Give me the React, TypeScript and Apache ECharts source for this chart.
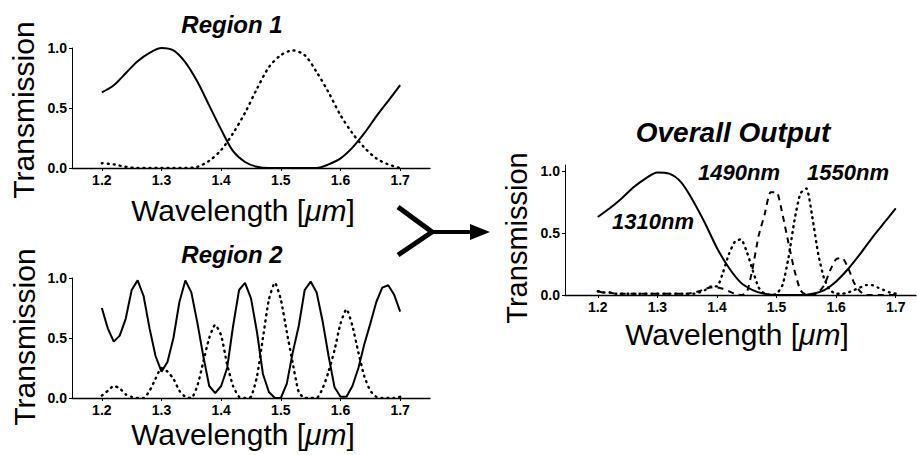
import React, { useEffect, useRef } from "react";
import * as echarts from "echarts";

const FONT = "'Liberation Sans', Arial, Helvetica, sans-serif";

// Wavelength samples (µm)
const WL_COARSE = [1.2, 1.22, 1.24, 1.26, 1.28, 1.3, 1.32, 1.34, 1.36, 1.38, 1.4, 1.42, 1.44, 1.46, 1.48, 1.5, 1.52, 1.54, 1.56, 1.58, 1.6, 1.62, 1.64, 1.66, 1.68, 1.7];
const WL_FINE = [
  1.2, 1.21, 1.22, 1.23, 1.24, 1.25, 1.26, 1.27, 1.28, 1.29,
  1.3, 1.31, 1.32, 1.33, 1.34, 1.35, 1.36, 1.37, 1.38, 1.39,
  1.4, 1.41, 1.42, 1.43, 1.44, 1.45, 1.46, 1.47, 1.48, 1.49,
  1.5, 1.51, 1.52, 1.53, 1.54, 1.55, 1.56, 1.57, 1.58, 1.59,
  1.6, 1.61, 1.62, 1.63, 1.64, 1.65, 1.66, 1.67, 1.68, 1.69, 1.7,
];

// Tick labels
const X_TICKS = [1.2, 1.3, 1.4, 1.5, 1.6, 1.7];
const Y_TICKS = [0, 0.5, 1.0];

// Region 1 (on WL_COARSE)
const R1_SOLID = [0.63, 0.69, 0.79, 0.89, 0.96, 1.0, 0.98, 0.88, 0.72, 0.52, 0.32, 0.14, 0.05, 0.01, 0, 0, 0, 0, 0, 0.03, 0.08, 0.17, 0.29, 0.43, 0.56, 0.69];
const R1_DOTTED = [0.04, 0.03, 0.01, 0, 0, 0, 0, 0, 0.01, 0.06, 0.15, 0.29, 0.46, 0.66, 0.84, 0.94, 0.98, 0.94, 0.8, 0.63, 0.44, 0.29, 0.17, 0.08, 0.03, 0.0];

// Region 2 (on WL_FINE)
const R2_SOLID = [
  0.75, 0.58, 0.47, 0.52, 0.66, 0.9, 0.98, 0.85, 0.58, 0.35,
  0.22, 0.3, 0.5, 0.8, 0.98, 0.88, 0.63, 0.35, 0.1, 0.04,
  0.1, 0.25, 0.6, 0.9, 0.96, 0.83, 0.55, 0.2, 0.05, 0.0,
  0.0, 0.12, 0.38, 0.6, 0.9, 0.97, 0.88, 0.64, 0.35, 0.09,
  0.01, 0.01, 0.1, 0.25, 0.45, 0.62, 0.8, 0.92, 0.94, 0.86, 0.72,
];
const R2_DOTTED = [
  0.02, 0.06, 0.1, 0.08, 0.03, 0.01, 0.0, 0.0, 0.06, 0.16,
  0.25, 0.22, 0.16, 0.06, 0.01, 0.0, 0.1, 0.3, 0.5, 0.61,
  0.52, 0.28, 0.1, 0.01, 0.0, 0.01, 0.18, 0.5, 0.82, 0.96,
  0.82, 0.55, 0.29, 0.05, 0.0, 0.0, 0.0, 0.08, 0.22, 0.4,
  0.62, 0.74, 0.6, 0.38, 0.18, 0.06, 0.01, 0.0, 0.0, 0.0, 0.01,
];

// Overall output
const OV_1310 = [0.63, 0.7, 0.78, 0.87, 0.94, 0.99, 0.98, 0.91, 0.76, 0.58, 0.38, 0.22, 0.1, 0.04, 0.01, 0.0, 0, 0, 0.01, 0.04, 0.11, 0.21, 0.33, 0.46, 0.58, 0.7];
const OV_1490 = [
  0.03, 0.02, 0.02, 0.01, 0.01, 0.01, 0.01, 0.01, 0.01, 0.01,
  0.01, 0.01, 0.01, 0.01, 0.01, 0.01, 0.02, 0.03, 0.05, 0.06,
  0.06, 0.05, 0.03, 0.01, 0.0, 0.02, 0.22, 0.48, 0.65, 0.83,
  0.83, 0.65, 0.42, 0.2, 0.04, 0.0, 0.0, 0.02, 0.08, 0.2,
  0.29, 0.3, 0.22, 0.1, 0.03, 0.0, 0.0, 0.0, 0.0, 0.0, 0.0,
];
const OV_1550 = [
  0.03, 0.02, 0.02, 0.01, 0.01, 0.01, 0.01, 0.01, 0.01, 0.01,
  0.01, 0.01, 0.01, 0.01, 0.01, 0.01, 0.01, 0.02, 0.04, 0.07,
  0.07, 0.18, 0.33, 0.43, 0.45, 0.35, 0.2, 0.06, 0.01, 0.0,
  0.01, 0.08, 0.3, 0.6, 0.82, 0.86, 0.63, 0.33, 0.13, 0.04,
  0.01, 0.01, 0.02, 0.04, 0.06, 0.08, 0.08, 0.06, 0.04, 0.02, 0.01,
];

const pairs = (xs: number[], ys: number[]) => xs.map((x, i) => [x, ys[i]]);

export default function App() {
  const ref = useRef<HTMLDivElement>(null);

  useEffect(() => {
    const chart = echarts.init(ref.current!, null, { renderer: "svg" });

    const xAxis = (gridIndex: number, min: number, max: number) => ({
      type: "value",
      gridIndex,
      min,
      max,
      axisLine: { show: true, onZero: false, lineStyle: { color: "#000", width: 1.3 } },
      axisTick: { show: true, customValues: X_TICKS, length: 3, lineStyle: { color: "#000" } },
      axisLabel: {
        customValues: X_TICKS,
        formatter: (v: number) => v.toFixed(1),
        color: "#000",
        fontWeight: "bold",
        fontSize: 14,
        fontFamily: FONT,
        margin: 5,
      },
      splitLine: { show: false },
    });
    const yAxis = (gridIndex: number, max: number) => ({
      type: "value",
      gridIndex,
      min: 0,
      max,
      axisLine: { show: true, lineStyle: { color: "#000", width: 1 } },
      axisTick: { show: true, customValues: Y_TICKS, length: 3, lineStyle: { color: "#000" } },
      axisLabel: {
        customValues: Y_TICKS,
        formatter: (v: number) => v.toFixed(1),
        color: "#000",
        fontWeight: "bold",
        fontSize: 14,
        fontFamily: FONT,
        margin: 5,
      },
      splitLine: { show: false },
    });

    const solid = { color: "#000", width: 2 };
    const dotted = { color: "#000", width: 2.4, type: [1, 5], cap: "round" };
    const dashed = { color: "#000", width: 2, type: [6, 5] };

    const line = (xi: number, data: number[][], lineStyle: any, smooth: boolean | number) => ({
      type: "line",
      xAxisIndex: xi,
      yAxisIndex: xi,
      data,
      showSymbol: false,
      symbol: "none",
      smooth,
      lineStyle,
      silent: true,
    });

    const text = (x: number, y: number, t: string, font: string, rotation = 0) => ({
      type: "text",
      x,
      y,
      rotation,
      style: {
        text: t,
        font,
        fill: "#000",
        textAlign: "center",
        textVerticalAlign: "middle",
      },
    });
    const axisName = (x: number, y: number) => ({
      type: "text",
      x,
      y,
      style: {
        text: "{a|Wavelength [}{b|μm}{a|]}",
        fill: "#000",
        textAlign: "center",
        textVerticalAlign: "middle",
        rich: {
          a: { fontSize: 30, fontFamily: FONT, fill: "#000", color: "#000" },
          b: { fontSize: 30, fontFamily: FONT, fontStyle: "italic", fill: "#000", color: "#000" },
        },
      },
    });

    const titleFont = `italic bold 24px ${FONT}`;
    const labelFont = `italic bold 22px ${FONT}`;
    const nameFont = `30px ${FONT}`;

    const option: any = {
      animation: false,
      backgroundColor: "#fff",
      grid: [
        { left: 72, top: 48, width: 358, height: 120, outerBoundsMode: "none" },
        { left: 72, top: 278, width: 358, height: 120, outerBoundsMode: "none" },
        { left: 565, top: 165, width: 351, height: 130, outerBoundsMode: "none" },
      ],
      xAxis: [xAxis(0, 1.15, 1.75), xAxis(1, 1.15, 1.75), xAxis(2, 1.145, 1.734)],
      yAxis: [yAxis(0, 1.0), yAxis(1, 1.0), yAxis(2, 1.05)],
      series: [
        line(0, pairs(WL_COARSE, R1_SOLID), solid, 0.3),
        line(0, pairs(WL_COARSE, R1_DOTTED), dotted, 0.3),
        line(1, pairs(WL_FINE, R2_SOLID), solid, false),
        line(1, pairs(WL_FINE, R2_DOTTED), dotted, 0.2),
        line(2, pairs(WL_COARSE, OV_1310), solid, 0.3),
        line(2, pairs(WL_FINE, OV_1490), dashed, 0.2),
        line(2, pairs(WL_FINE, OV_1550), dotted, 0.2),
      ],
      graphic: [
        text(232, 24, "Region 1", titleFont),
        text(232, 254, "Region 2", titleFont),
        text(733, 132, "Overall Output", `italic bold 28px ${FONT}`),
        text(23, 110, "Transmission", nameFont, Math.PI / 2),
        text(24, 337, "Transmission", nameFont, Math.PI / 2),
        text(517, 238, "Transmission", `29px ${FONT}`, Math.PI / 2),
        axisName(243, 210),
        axisName(243, 434),
        axisName(737, 334),
        text(653, 221, "1310nm", labelFont),
        text(739, 172, "1490nm", labelFont),
        text(848, 172, "1550nm", labelFont),
        {
          type: "polyline",
          shape: { points: [[398, 207], [432, 232], [398, 255]] },
          style: { stroke: "#000", lineWidth: 5, fill: null },
        },
        {
          type: "line",
          shape: { x1: 430, y1: 232, x2: 474, y2: 232 },
          style: { stroke: "#000", lineWidth: 4 },
        },
        {
          type: "polygon",
          shape: { points: [[470, 224], [490, 232], [470, 240]] },
          style: { fill: "#000" },
        },
      ],
    };

    chart.setOption(option);
    return () => chart.dispose();
  }, []);

  return (
    <div
      ref={ref}
      style={{ position: "absolute", left: 0, top: 0, width: 917, height: 455, background: "#fff" }}
    />
  );
}
